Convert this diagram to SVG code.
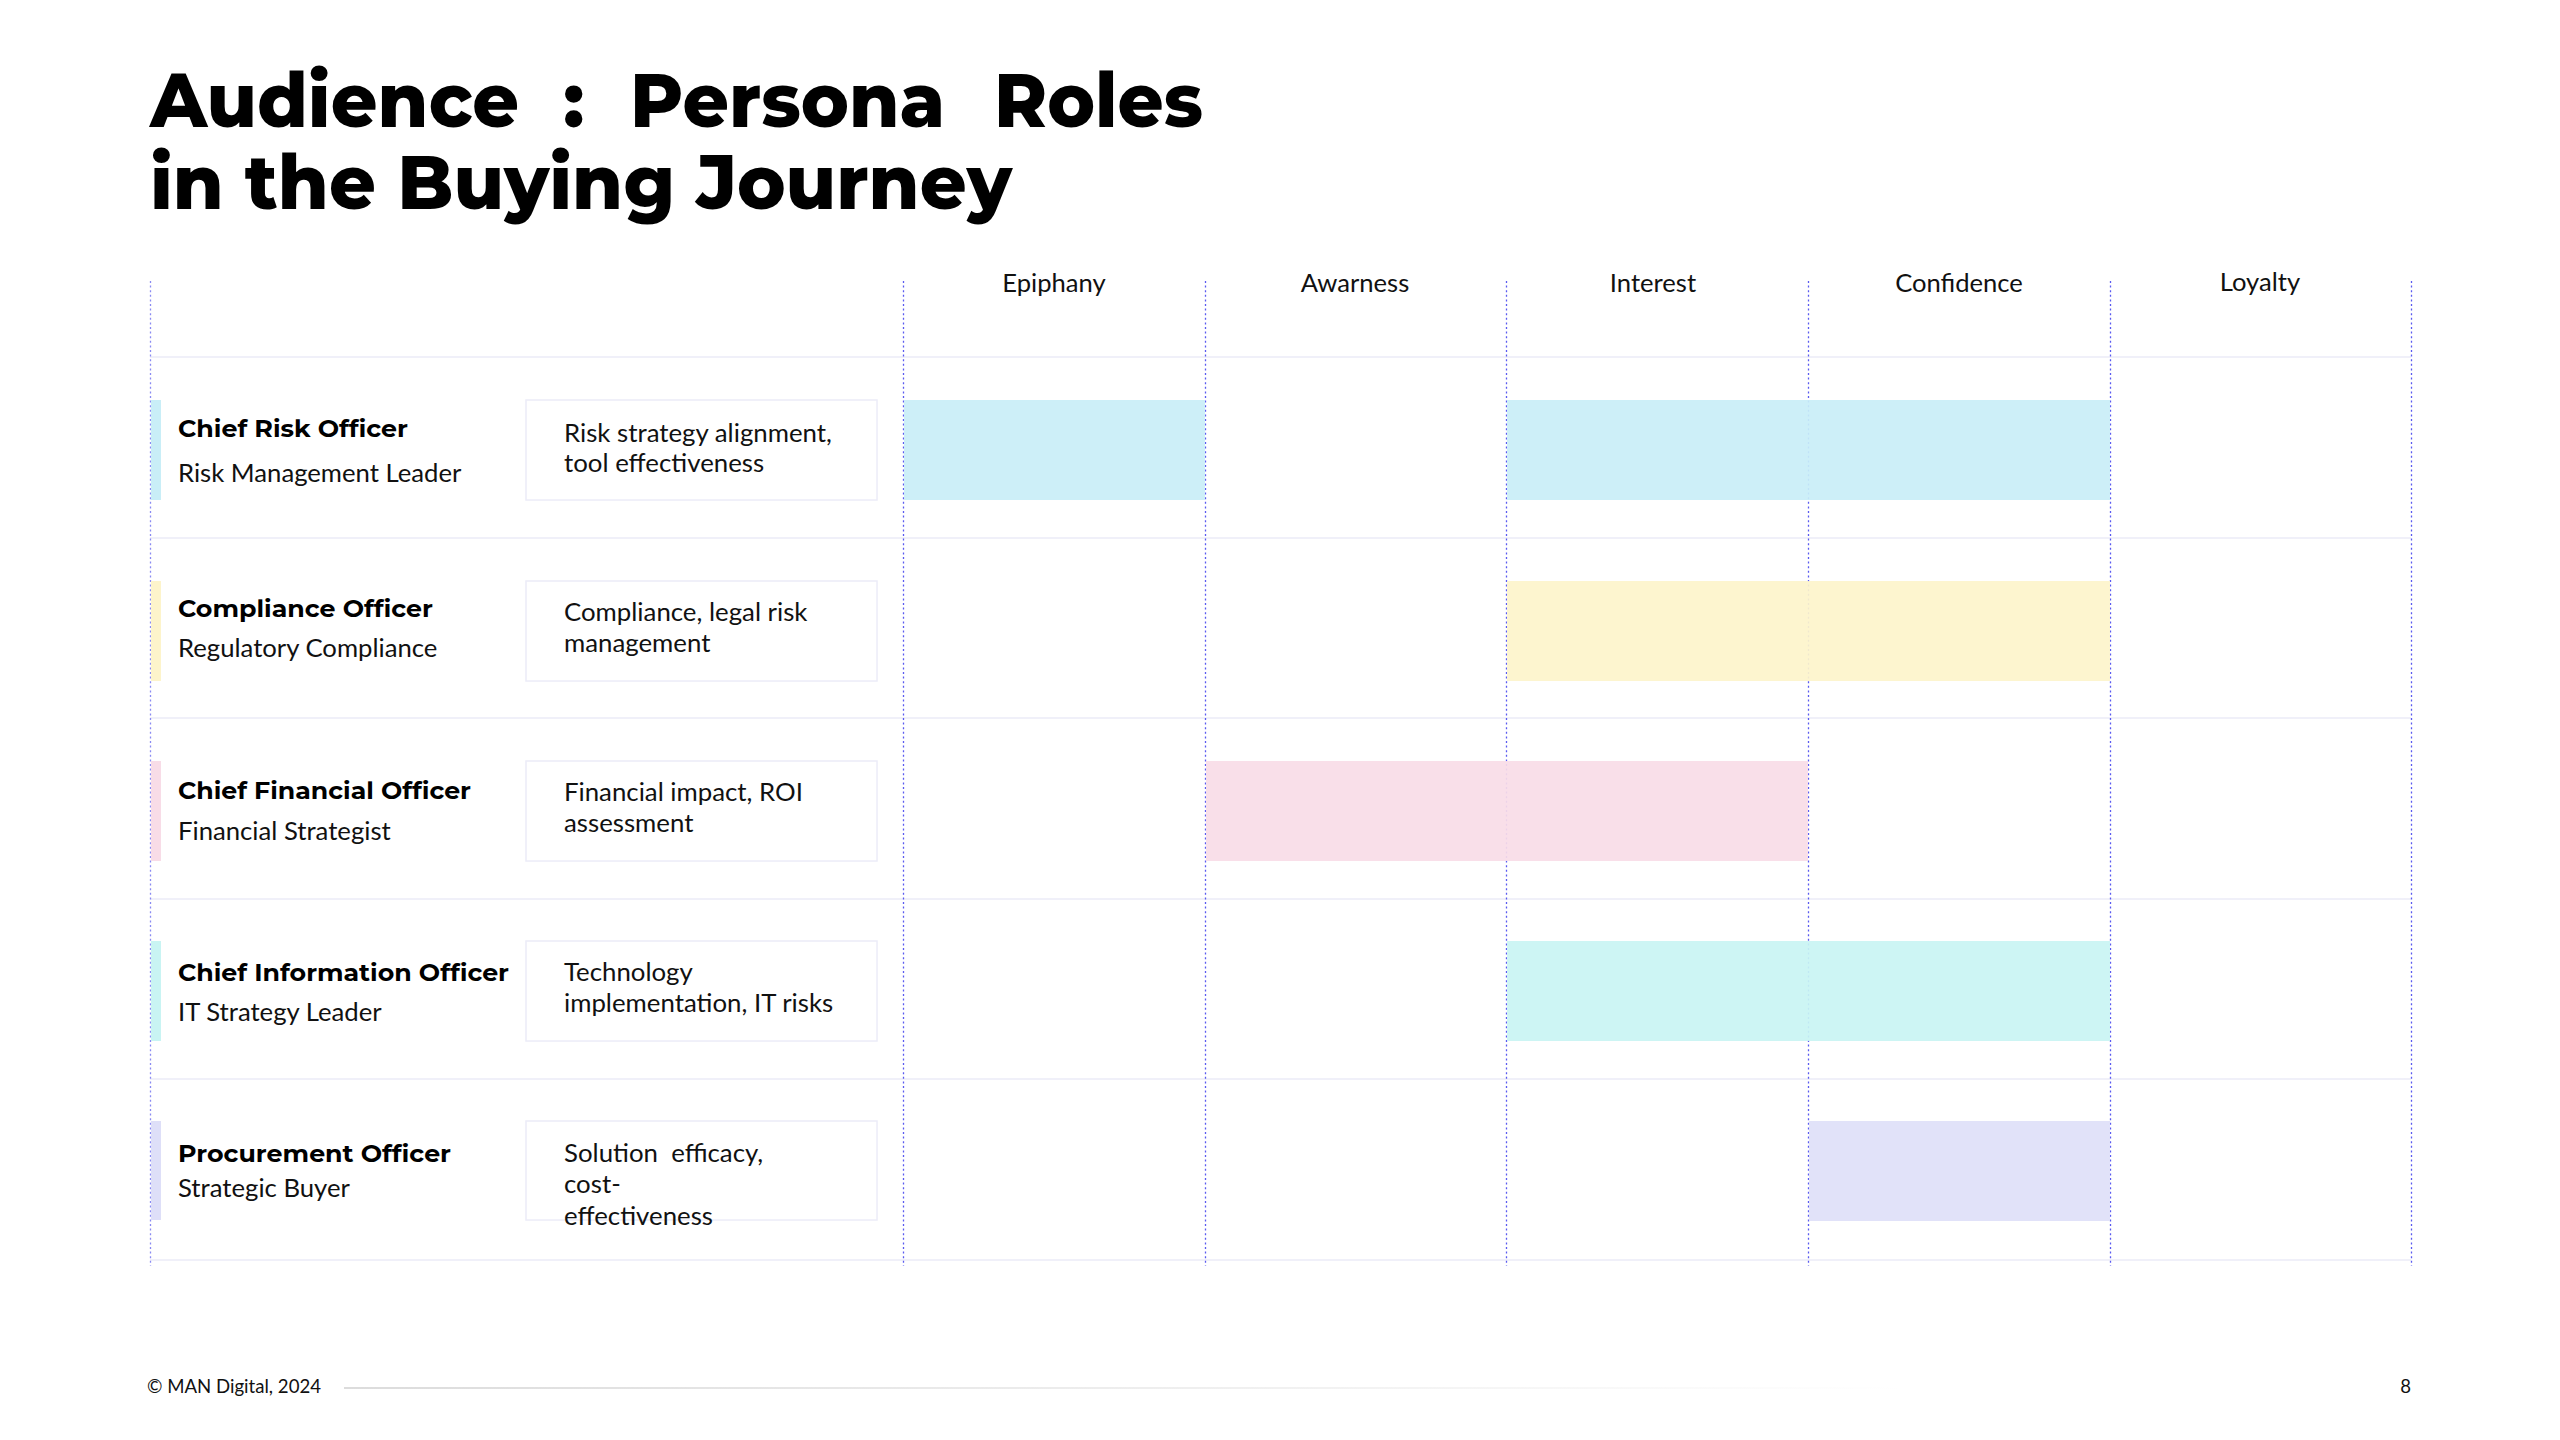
<svg xmlns="http://www.w3.org/2000/svg" width="2560" height="1440" viewBox="0 0 2560 1440">
<style>
.title{font-family:Montserrat,Inter,"Open Sans",sans-serif;font-weight:800;font-size:76px;fill:#000}
.col{font-family:Lato,"Open Sans",sans-serif;font-size:25.6px;fill:#111;text-anchor:middle}
.name{font-family:Montserrat,Inter,"Open Sans",sans-serif;font-weight:700;font-size:24px;fill:#000}
.role{font-family:Lato,"Open Sans",sans-serif;font-size:25.7px;fill:#111}
.desc{font-family:Lato,"Open Sans",sans-serif;font-size:25.8px;fill:#111}
.foot{font-family:Lato,"Open Sans",sans-serif;font-size:18.6px;fill:#111}
.hline{stroke:#f0f0f9;stroke-width:2}
.vline{stroke:#5a5af0;stroke-width:1.3;stroke-dasharray:2 2.6}
.box{fill:#fff;stroke:#ececf8;stroke-width:1.5}
.c1{fill:#c9eef7}.c2{fill:#fdf4cb}.c3{fill:#f8dce7}.c4{fill:#c9f4f3}.c5{fill:#dedff8}
.bar{opacity:0.92}
</style>
<defs>
<linearGradient id="fg" x1="0" y1="0" x2="1" y2="0">
<stop offset="0" stop-color="#dcdcdc"/>
<stop offset="1" stop-color="#ffffff"/>
</linearGradient>
</defs>
<rect width="2560" height="1440" fill="#fff"/>

<g id="title">
<text class="title"><tspan x="150" y="127" textLength="369" lengthAdjust="spacingAndGlyphs">Audience</tspan><tspan x="563" y="127">:</tspan><tspan x="630" y="127" textLength="315" lengthAdjust="spacingAndGlyphs">Persona</tspan><tspan x="994" y="127" textLength="209" lengthAdjust="spacingAndGlyphs">Roles</tspan><tspan x="150" y="209" textLength="862" lengthAdjust="spacingAndGlyphs">in the Buying Journey</tspan></text>
</g>

<g id="grid">
<line class="hline" x1="150" y1="357" x2="2411" y2="357"/>
<line class="hline" x1="150" y1="538" x2="2411" y2="538"/>
<line class="hline" x1="150" y1="718" x2="2411" y2="718"/>
<line class="hline" x1="150" y1="899" x2="2411" y2="899"/>
<line class="hline" x1="150" y1="1079" x2="2411" y2="1079"/>
<line class="hline" x1="150" y1="1260" x2="2411" y2="1260"/>
<line class="vline" x1="150.5" y1="281" x2="150.5" y2="1266" style="stroke:#8a8af2"/>
<line class="vline" x1="903.5" y1="281" x2="903.5" y2="1266"/>
<line class="vline" x1="1205.5" y1="281" x2="1205.5" y2="1266"/>
<line class="vline" x1="1506.5" y1="281" x2="1506.5" y2="1266"/>
<line class="vline" x1="1808.5" y1="281" x2="1808.5" y2="1266"/>
<line class="vline" x1="2110.5" y1="281" x2="2110.5" y2="1266"/>
<line class="vline" x1="2411.5" y1="281" x2="2411.5" y2="1266"/>
</g>

<g id="stages">
<text class="col" x="1054" y="292">Epiphany</text>
<text class="col" x="1355" y="292">Awarness</text>
<text class="col" x="1653" y="292">Interest</text>
<text class="col" x="1959" y="292">Confidence</text>
<text class="col" x="2260" y="291">Loyalty</text>
</g>

<g id="row-cro">
<rect class="c1" x="151" y="400" width="10" height="100"/>
<text class="name" x="178" y="437" textLength="230" lengthAdjust="spacingAndGlyphs">Chief Risk Officer</text>
<text class="role" x="178" y="482">Risk Management Leader</text>
<rect class="box" x="526" y="400" width="351" height="100"/>
<text class="desc" x="564" y="442">Risk strategy alignment,</text>
<text class="desc" x="564" y="472">tool effectiveness</text>
<rect class="c1 bar" x="904" y="400" width="301" height="100"/>
<rect class="c1 bar" x="1507" y="400" width="603" height="100"/>
</g>

<g id="row-co">
<rect class="c2" x="151" y="581" width="10" height="100"/>
<text class="name" x="178" y="617" textLength="255" lengthAdjust="spacingAndGlyphs">Compliance Officer</text>
<text class="role" x="178" y="657">Regulatory Compliance</text>
<rect class="box" x="526" y="581" width="351" height="100"/>
<text class="desc" x="564" y="621">Compliance, legal risk</text>
<text class="desc" x="564" y="652">management</text>
<rect class="c2 bar" x="1507" y="581" width="603" height="100"/>
</g>

<g id="row-cfo">
<rect class="c3" x="151" y="761" width="10" height="100"/>
<text class="name" x="178" y="799" textLength="293" lengthAdjust="spacingAndGlyphs">Chief Financial Officer</text>
<text class="role" x="178" y="840">Financial Strategist</text>
<rect class="box" x="526" y="761" width="351" height="100"/>
<text class="desc" x="564" y="801">Financial impact, ROI</text>
<text class="desc" x="564" y="832">assessment</text>
<rect class="c3 bar" x="1206" y="761" width="602" height="100"/>
</g>

<g id="row-cio">
<rect class="c4" x="151" y="941" width="10" height="100"/>
<text class="name" x="178" y="981" textLength="331" lengthAdjust="spacingAndGlyphs">Chief Information Officer</text>
<text class="role" x="178" y="1021">IT Strategy Leader</text>
<rect class="box" x="526" y="941" width="351" height="100"/>
<text class="desc" x="564" y="981">Technology</text>
<text class="desc" x="564" y="1012">implementation, IT risks</text>
<rect class="c4 bar" x="1507" y="941" width="603" height="100"/>
</g>

<g id="row-po">
<rect class="c5" x="151" y="1121" width="10" height="99"/>
<text class="name" x="178" y="1162" textLength="273" lengthAdjust="spacingAndGlyphs">Procurement Officer</text>
<text class="role" x="178" y="1197">Strategic Buyer</text>
<rect class="box" x="526" y="1121" width="351" height="99"/>
<text class="desc" x="564" y="1162" xml:space="preserve">Solution  efficacy,</text>
<text class="desc" x="564" y="1193">cost-</text>
<text class="desc" x="564" y="1225">effectiveness</text>
<rect class="c5 bar" x="1809" y="1121" width="301" height="100"/>
</g>

<g id="footer">
<text class="foot" x="147" y="1393">© MAN Digital, 2024</text>
<rect x="344" y="1387" width="1560" height="2" fill="url(#fg)"/>
<text class="foot" x="2411" y="1393" text-anchor="end">8</text>
</g>
</svg>
